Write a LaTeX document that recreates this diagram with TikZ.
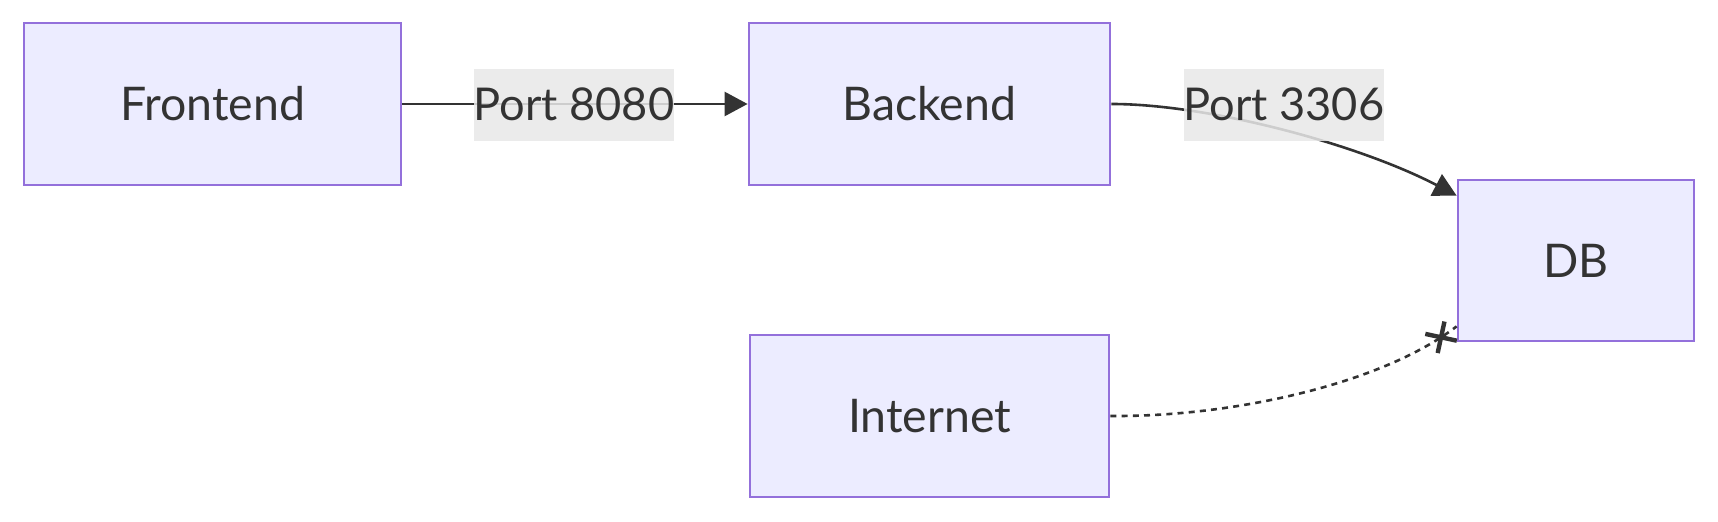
\documentclass[tikz,border=0pt]{standalone}
\usepackage{fontspec}
\setmainfont{Lato}
\usetikzlibrary{arrows.meta,calc,decorations.markings}
\definecolor{nodefill}{HTML}{ECECFF}
\definecolor{nodeborder}{HTML}{9370DB}
\definecolor{ink}{HTML}{333333}
\definecolor{labelbg}{HTML}{E8E8E8}
\begin{document}
\begin{tikzpicture}[x=0.5pt,y=-0.5pt,
  box/.style={draw=nodeborder, fill=nodefill, line width=1.4pt, inner sep=0pt, text=ink, minimum height=81pt, font=\fontsize{23.2}{28}\selectfont},
  elabel/.style={fill=labelbg, fill opacity=0.85, text opacity=1, text=ink, inner sep=0pt, minimum height=36pt, font=\fontsize{22.6}{27}\selectfont},
  edge/.style={draw=ink, line width=1.3pt},
  tip/.style={-{Triangle[length=11.5pt,width=12pt]}},
  crossedge/.style={draw=ink, line width=1.3pt, dash pattern=on 3pt off 2.6pt, postaction={decorate},
    decoration={markings, mark=at position -9.5pt with {\draw[ink, line width=2.2pt, solid] (-5.7pt,-5.7pt)--(5.7pt,5.7pt) (-5.7pt,5.7pt)--(5.7pt,-5.7pt);}}},
]
\useasboundingbox (0,0) rectangle (1718,522);
\node[box, minimum width=188.5pt] (fe) at (212.5,104) {Frontend};
\node[box, minimum width=180.5pt] (be) at (929.5,104) {Backend};
\node[box, minimum width=118pt, minimum height=80.5pt] (db) at (1576,260.5) {DB};
\node[box, minimum width=179.5pt] (inet) at (929.5,416) {Internet};
% edges
\draw[edge, tip] (fe.east) -- (be.west);
\node[elabel, minimum width=98.5pt] (l1) at (574,104.8) {Port 8080};
\draw[edge, tip] (be.east) .. controls (1210,104) and (1360,145) .. ($(db.north west)+(0,17)$);
\node[elabel, minimum width=99pt] (l2) at (1284,104.8) {Port 3306};
\draw[crossedge] (inet.east) .. controls (1230,417) and (1380,385) .. ($(db.south west)+(0,-16)$);
\end{tikzpicture}
\end{document}
